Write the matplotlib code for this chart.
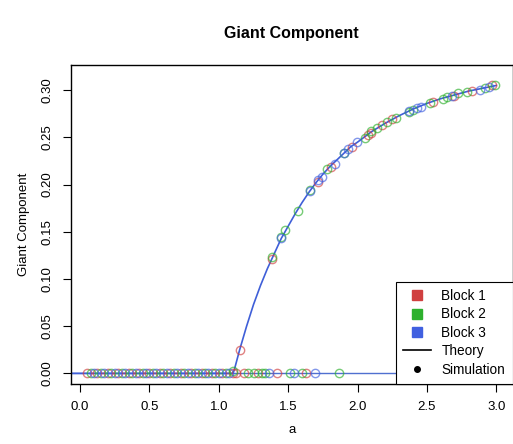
import matplotlib
matplotlib.use("Agg")
import matplotlib.pyplot as plt
from matplotlib.lines import Line2D

plt.rcParams['font.family'] = ['Liberation Sans', 'DejaVu Sans']

# ---- data ----
theory_a = [-0.10, 1.10, 1.11, 1.15, 1.20, 1.25, 1.30, 1.35, 1.40, 1.45, 1.50, 1.55,
            1.60, 1.65, 1.70, 1.75, 1.80, 1.85, 1.90, 1.95, 2.00, 2.10, 2.20, 2.30,
            2.40, 2.50, 2.60, 2.70, 2.80, 2.90, 3.00]
theory_y = [0.000, 0.000, 0.003, 0.025, 0.050, 0.073, 0.093, 0.111, 0.127, 0.143, 0.156, 0.169,
            0.181, 0.192, 0.202, 0.211, 0.219, 0.226, 0.233, 0.240, 0.245, 0.256, 0.265, 0.273,
            0.280, 0.286, 0.291, 0.295, 0.299, 0.302, 0.305]

block1_a = [0.05, 0.125, 0.2, 0.275, 0.35, 0.425, 0.5, 0.575, 0.65, 0.725, 0.8, 0.875,
            0.95, 1.025, 1.1, 1.125, 1.18, 1.28, 1.42, 1.63,
            1.15, 1.384, 1.716, 1.808, 1.957, 2.077, 2.10, 2.173, 2.245, 2.54, 2.694, 2.822, 2.97]
block1_y = [0.0, 0.0, 0.0, 0.0, 0.0, 0.0, 0.0, 0.0, 0.0, 0.0, 0.0, 0.0,
            0.0, 0.0, 0.0, 0.0, 0.0, 0.0, 0.0, 0.0,
            0.025, 0.121, 0.203, 0.219, 0.240, 0.2524, 0.255, 0.263, 0.269, 0.2877, 0.2937, 0.2994, 0.3054]

block2_a = [0.075, 0.15, 0.225, 0.3, 0.375, 0.45, 0.525, 0.6, 0.675, 0.75, 0.825, 0.9,
            0.975, 1.05, 1.21, 1.25, 1.31, 1.33, 1.51, 1.60, 1.865,
            1.10, 1.384, 1.447, 1.476, 1.567, 1.656, 1.777, 1.904, 2.053, 2.10, 2.137, 2.209,
            2.276, 2.372, 2.40, 2.521, 2.613, 2.642, 2.725, 2.786, 2.918, 2.99]
block2_y = [0.0, 0.0, 0.0, 0.0, 0.0, 0.0, 0.0, 0.0, 0.0, 0.0, 0.0, 0.0,
            0.0, 0.0, 0.0, 0.0, 0.0, 0.0, 0.0, 0.0, 0.0,
            0.002, 0.1235, 0.1445, 0.1518, 0.172, 0.194, 0.217, 0.233, 0.249, 0.2565, 0.2595, 0.2665,
            0.271, 0.277, 0.279, 0.286, 0.291, 0.2924, 0.2966, 0.2983, 0.302, 0.3054]

block3_a = [0.1, 0.175, 0.25, 0.325, 0.4, 0.475, 0.55, 0.625, 0.7, 0.775, 0.85, 0.925,
            1.0, 1.075, 1.36, 1.54, 1.69,
            1.447, 1.656, 1.716, 1.74, 1.837, 1.904, 1.932, 1.993, 2.372, 2.425, 2.454,
            2.678, 2.882, 2.949]
block3_y = [0.0, 0.0, 0.0, 0.0, 0.0, 0.0, 0.0, 0.0, 0.0, 0.0, 0.0, 0.0,
            0.0, 0.0, 0.0, 0.0, 0.0,
            0.143, 0.1935, 0.2045, 0.208, 0.222, 0.2335, 0.238, 0.2453, 0.2775, 0.2807, 0.2818,
            0.2937, 0.3005, 0.3036]

block_labels = ["Block 1", "Block 2", "Block 3"]
block_colors = ["#D03F3F", "#2DB02D", "#4060E0"]
x_ticks = [0.0, 0.5, 1.0, 1.5, 2.0, 2.5, 3.0]
y_ticks = [0.00, 0.05, 0.10, 0.15, 0.20, 0.25, 0.30]

# ---- figure ----
fig = plt.figure(figsize=(5.13, 4.44), dpi=100)
ax = fig.add_axes([0.1378, 0.1351, 0.8616, 0.7192])

ax.axhline(0, color="#5070D0", lw=1.0, zorder=1)
ax.plot(theory_a, theory_y, color="#3F5FD8", lw=1.2, zorder=2)

for a_vals, y_vals, col in zip([block1_a, block2_a, block3_a],
                               [block1_y, block2_y, block3_y], block_colors):
    ax.plot(a_vals, y_vals, linestyle="none", marker="o", markersize=6.0,
            markerfacecolor="none", markeredgecolor=col, markeredgewidth=1.0,
            alpha=0.65, zorder=3)

ax.set_xlim(-0.068, 3.118)
ax.set_ylim(-0.0113, 0.327)
ax.set_xticks(x_ticks)
ax.set_xticklabels([f"{v:.1f}" for v in x_ticks])
ax.set_yticks(y_ticks)
ax.set_yticklabels([f"{v:.2f}" for v in y_ticks], rotation=90, va="center")
ax.tick_params(direction="out", length=5.5, width=0.8, labelsize=9.5, pad=7)
for s in ax.spines.values():
    s.set_linewidth(1.0)

ax.set_xlabel("a", fontsize=9.5, labelpad=8)
ax.set_ylabel("Giant Component", fontsize=9.5, labelpad=8)
ax.set_title("Giant Component", fontsize=11.5, fontweight="bold", pad=19)

handles = [Line2D([], [], linestyle="none", marker="s", markersize=7,
                  markerfacecolor=c, markeredgecolor=c) for c in block_colors]
handles.append(Line2D([], [], color="black", lw=1.2))
handles.append(Line2D([], [], linestyle="none", marker="o", markersize=4,
                      color="black"))
leg = ax.legend(handles, block_labels + ["Theory", "Simulation"], loc="lower right",
                fontsize=9.8, frameon=True, fancybox=False, framealpha=1,
                edgecolor="black", borderaxespad=0, handlelength=2.0,
                handletextpad=0.8, labelspacing=0.32, borderpad=0.55)
leg.get_frame().set_linewidth(0.8)

fig.savefig("out.png", dpi=100)
